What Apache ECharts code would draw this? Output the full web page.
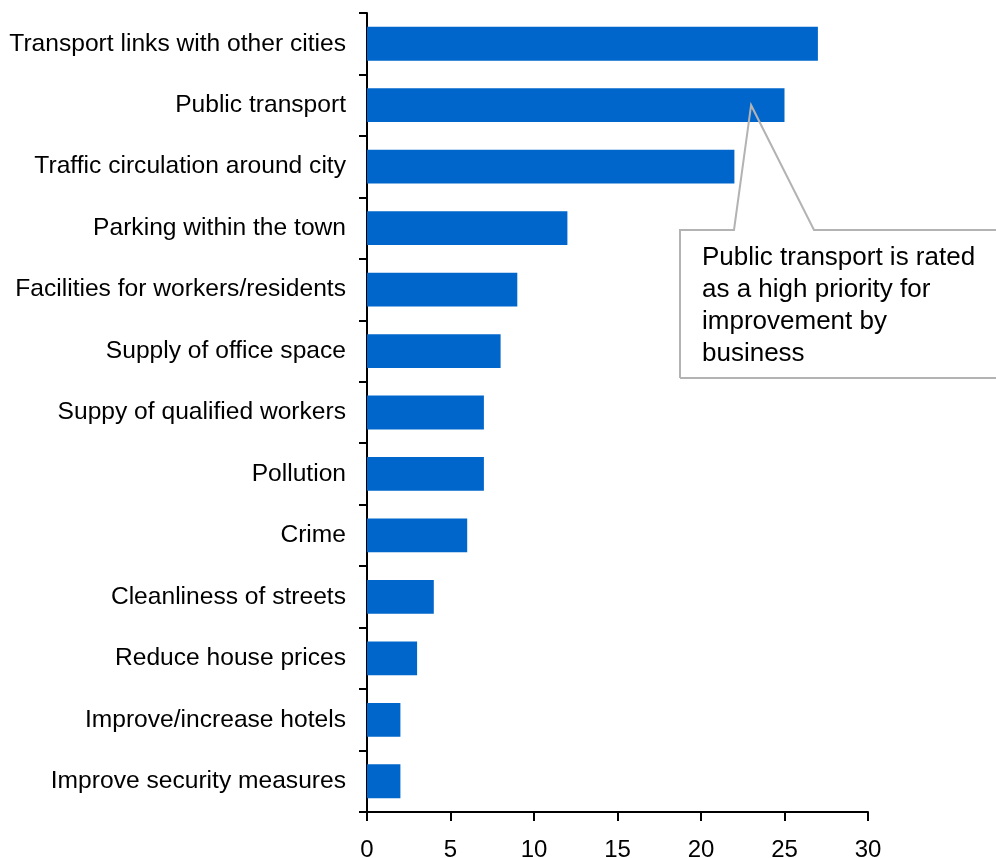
<!DOCTYPE html>
<html><head><meta charset="utf-8">
<script src="https://cdn.jsdelivr.net/npm/echarts@6/dist/echarts.min.js"></script>
<style>html,body{margin:0;padding:0;background:#fff}#c{width:996px;height:858px}</style>
</head><body><div id="c"></div>
<script>
const categories = [
  "Transport links with other cities",
  "Public transport",
  "Traffic circulation around city",
  "Parking within the town",
  "Facilities for workers/residents",
  "Supply of office space",
  "Suppy of qualified workers",
  "Pollution",
  "Crime",
  "Cleanliness of streets",
  "Reduce house prices",
  "Improve/increase hotels",
  "Improve security measures"
];
const values = [27, 25, 22, 12, 9, 8, 7, 7, 6, 4, 3, 2, 2];
const calloutLines = ["Public transport is rated", "as a high priority for", "improvement by", "business"];
const calloutAnchor = [23, "Public transport"];

const chart = echarts.init(document.getElementById('c'), null, {renderer: 'canvas'});
const font = '"Liberation Sans", Arial, sans-serif';
chart.setOption({
  animation: false,
  grid: {left: 367, right: 128, top: 13, bottom: 46, containLabel: false, outerBoundsMode: 'none'},
  xAxis: {
    type: 'value', min: 0, max: 30, interval: 5,
    axisLine: {show: true, lineStyle: {color: '#000', width: 2}},
    axisTick: {show: true, length: 9, lineStyle: {color: '#000', width: 2}},
    axisLabel: {color: '#000', fontSize: 24, fontFamily: font, margin: 26},
    splitLine: {show: false}
  },
  yAxis: {
    type: 'category', data: categories, inverse: true,
    axisLine: {show: true, lineStyle: {color: '#000', width: 2}},
    axisTick: {show: true, length: 8, lineStyle: {color: '#000', width: 2}},
    axisLabel: {color: '#000', fontSize: 24.6, fontFamily: font, margin: 21}
  },
  series: [{
    type: 'bar', data: values, barCategoryGap: '45%',
    itemStyle: {color: '#0066CC'}
  }]
});

const tip = chart.convertToPixel({xAxisIndex: 0, yAxisIndex: 0}, calloutAnchor);
const boxL = 680, boxT = 230, boxB = 378, boxR = 1002;
chart.setOption({
  graphic: [
    {type: 'polyline', z: 100, shape: {points: [[boxL, boxB], [boxL, boxT], [734, boxT], tip, [814, boxT], [boxR, boxT], [boxR, boxB], [boxL, boxB]]},
     style: {stroke: '#b3b3b3', lineWidth: 2, fill: null}},
    {type: 'text', z: 101, left: 702, top: 242,
     style: {text: calloutLines.join('\n'), font: '26px ' + font, lineHeight: 32, fill: '#000'}}
  ]
});
</script></body></html>
